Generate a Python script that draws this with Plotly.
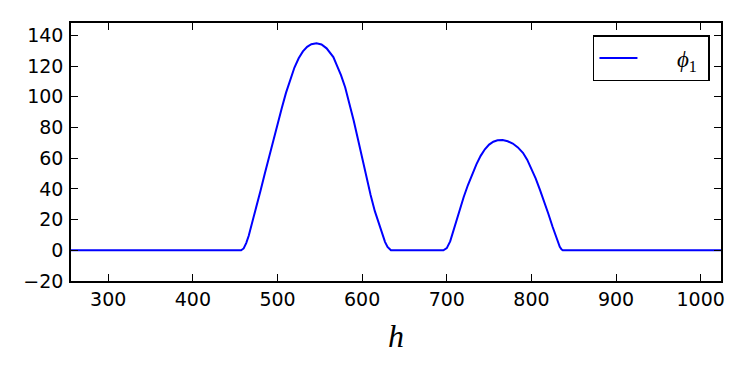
import plotly.graph_objects as go

# Data
h_values = [256, 457, 460, 463, 466, 470, 475, 480, 485, 490, 495, 500, 505, 510, 515,
            520, 525, 530, 535, 540, 546, 552, 558, 563, 566, 570, 575, 580, 585, 590,
            595, 600, 605, 610, 615, 620, 624, 627, 630, 632, 634,
            696, 700, 704, 708, 712, 716, 720, 725, 730, 735, 740, 745, 750, 755, 760,
            766, 772, 778, 784, 790, 795, 800, 805, 810, 815, 820, 825, 828, 831, 833.5,
            835.5, 837, 1024]
phi1_values = [0, 0, 1.2, 4.7, 9.5, 17.5, 28, 39, 50, 61, 71.5, 82, 92.5, 102.5, 111.5,
               119, 125, 129.5, 132.5, 134.2, 134.8, 134, 131.5, 128, 125.8, 120.5, 114, 106, 95.5, 84.5,
               72.5, 60, 47.5, 36, 25.5, 16.5, 10, 5.5, 2.2, 0.7, 0,
               0, 1.4, 5.8, 13, 20.5, 28, 34.7, 42.5, 49.5, 56, 61.5, 65.8, 68.8, 70.7, 71.6,
               71.8, 71, 69.5, 67, 63.5, 59, 53.2, 46.8, 39.5, 32, 23.8, 15.3, 10.3, 5.5, 2.3,
               0.6, 0, 0]

x_ticks = [300, 400, 500, 600, 700, 800, 900, 1000]
y_ticks = [-20, 0, 20, 40, 60, 80, 100, 120, 140]
x_range = [256, 1024]
y_range = [-20, 148]

fig = go.Figure()
fig.add_trace(go.Scatter(
    x=h_values, y=phi1_values, mode="lines",
    line=dict(color="#0000ff", width=2),
    name="      <i>ϕ</i><sub>1</sub> ",
))

axis_common = dict(
    showline=True, linecolor="black", linewidth=1.5, mirror="ticks",
    ticks="inside", ticklen=7, tickwidth=1, tickcolor="black",
    showgrid=False, zeroline=False,
    tickfont=dict(family="DejaVu Sans", size=19, color="black"),
)

fig.update_xaxes(range=x_range, tickvals=x_ticks, **axis_common,
                 title=dict(text="<i>h</i>", font=dict(family="Liberation Serif", size=32, color="black"),
                            standoff=16))
fig.update_yaxes(range=y_range, tickvals=y_ticks, ticklabelstandoff=2, **axis_common)

fig.update_layout(
    width=750, height=375,
    margin=dict(l=71, r=29, t=23, b=94),
    paper_bgcolor="white", plot_bgcolor="white",
    showlegend=True,
    legend=dict(
        x=0.983, y=0.953, xanchor="right", yanchor="top",
        bordercolor="black", borderwidth=1.5, bgcolor="white",
        font=dict(family="Liberation Serif", size=23, color="black"),
        itemwidth=38,
    ),
)

fig.write_html("out.html")
